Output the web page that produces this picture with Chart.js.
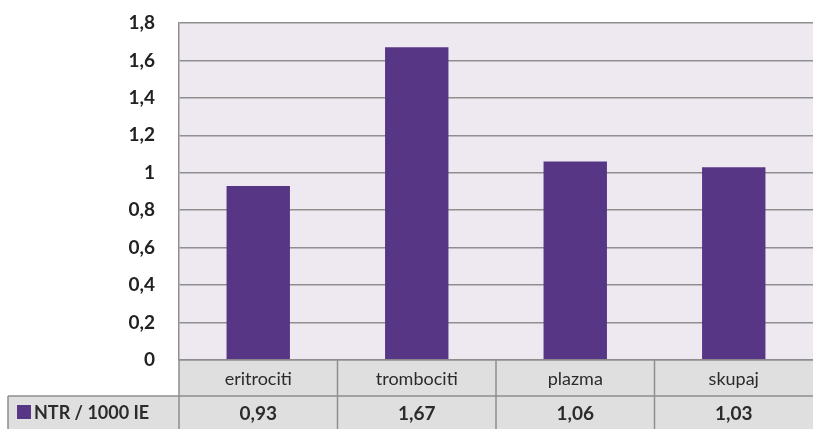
<!DOCTYPE html>
<html>
<head>
<meta charset="utf-8">
<script src="https://cdn.jsdelivr.net/npm/chart.js@4"></script>
<style>
  html, body { margin: 0; padding: 0; background: #fff; }
  #wrap { width: 813px; height: 429px; position: relative; }
</style>
</head>
<body>
<div id="wrap"><canvas id="myChart"></canvas></div>
<script>
const categories = ['eritrociti', 'trombociti', 'plazma', 'skupaj'];
const values = [0.93, 1.67, 1.06, 1.03];
const valueLabels = ['0,93', '1,67', '1,06', '1,03'];
const seriesName = 'NTR / 1000 IE';
const yTicks = [0, 0.2, 0.4, 0.6, 0.8, 1, 1.2, 1.4, 1.6, 1.8];

const barColor = 'rgb(88, 54, 134)';
const fontFam = 'Lato, "Open Sans", sans-serif';

const fmt = v => (Math.round(v * 10) / 10).toString().replace('.', ',');

const plotBg = {
    id: 'plotBg',
    beforeDraw(chart) {
        const { ctx, chartArea: a } = chart;
        ctx.save();
        ctx.fillStyle = '#eee9f0';
        ctx.fillRect(a.left, a.top, a.right - a.left, a.bottom - a.top);
        ctx.restore();
    }
};

const dataTable = {
    id: 'dataTable',
    afterDraw(chart) {
        const { ctx, chartArea: a, scales: { x } } = chart;
        const colW = (a.right - a.left) / categories.length;
        const row1 = a.bottom, row2 = a.bottom + 36, row3 = chart.height;
        ctx.save();
        // cell backgrounds
        ctx.fillStyle = '#e0dfe0';
        ctx.fillRect(a.left, row1, a.right - a.left, row3 - row1);
        ctx.fillRect(8, row2, a.left - 8, row3 - row2);
        // lines
        ctx.strokeStyle = '#8f8f8f';
        ctx.lineWidth = 1.5;
        ctx.beginPath();
        ctx.moveTo(a.left, row1); ctx.lineTo(a.right, row1);
        ctx.moveTo(8, row2); ctx.lineTo(a.right, row2);
        ctx.moveTo(8, row2); ctx.lineTo(8, row3);
        categories.forEach((c, i) => {
            const cx = x.getPixelForValue(i);
            const l = cx - colW / 2;
            ctx.moveTo(l, row1); ctx.lineTo(l, row3);
        });
        ctx.stroke();
        // text
        ctx.textAlign = 'center';
        ctx.textBaseline = 'middle';
        ctx.fillStyle = '#2b2b2b';
        categories.forEach((c, i) => {
            const cx = x.getPixelForValue(i);
            ctx.font = '18px ' + fontFam;
            ctx.fillText(c, cx, (row1 + row2) / 2 + 1);
            ctx.font = 'bold 19px ' + fontFam;
            ctx.fillText(valueLabels[i], cx, (row2 + row3) / 2 + 1);
        });
        // legend cell
        ctx.fillStyle = barColor;
        ctx.fillRect(17, row2 + 9, 14, 14);
        ctx.fillStyle = '#2b2b2b';
        ctx.textAlign = 'left';
        ctx.font = 'bold 18px ' + fontFam;
        ctx.fillText(seriesName, 34, (row2 + row3) / 2 + 1);
        ctx.restore();
    }
};

const data = {
    labels: categories,
    datasets: [{
        label: seriesName,
        backgroundColor: barColor,
        data: values,
        barPercentage: 0.4,
        categoryPercentage: 1.0
    }]
};

const config = {
    type: 'bar',
    data,
    plugins: [plotBg, dataTable],
    options: {
        responsive: true,
        maintainAspectRatio: false,
        animation: false,
        layout: { padding: { top: 23, bottom: 69, right: 0, left: 0 } },
        plugins: {
            legend: { display: false },
            tooltip: { enabled: false }
        },
        scales: {
            x: {
                display: false
            },
            y: {
                min: 0,
                max: 1.8,
                afterFit(scale) {
                    scale.width = 179;
                    scale.paddingTop = 0;
                    scale.paddingBottom = 0;
                },
                afterBuildTicks(scale) { scale.ticks = yTicks.map(v => ({ value: v })); },
                border: { display: true, color: '#8f8f8f', width: 1.5 },
                grid: { color: '#8f8f8f', lineWidth: 1.5, drawTicks: false },
                ticks: {
                    padding: 24,
                    color: '#222',
                    font: { family: fontFam, size: 19, weight: 'bold' },
                    callback: v => fmt(v)
                }
            }
        }
    }
};

var myChart = new Chart(document.getElementById('myChart'), config);
</script>
</body>
</html>
